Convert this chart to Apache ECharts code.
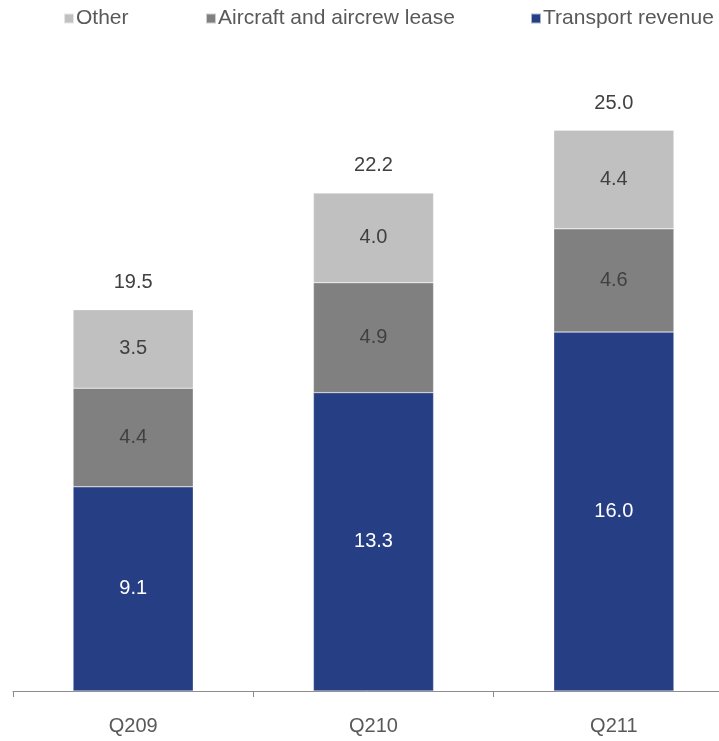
<!DOCTYPE html>
<html>
<head>
<meta charset="utf-8">
<script src="https://cdn.jsdelivr.net/npm/echarts@6/dist/echarts.min.js"></script>
<style>
  html, body { margin: 0; padding: 0; background: #fff; }
  #chart { width: 719px; height: 741px; }
</style>
</head>
<body>
<div id="chart"></div>
<script>
// Quarterly revenue breakdown
const quarters = ['Q209', 'Q210', 'Q211'];
const transportRevenue = [9.1, 13.3, 16.0];
const aircraftLease = [4.4, 4.9, 4.6];
const other = [3.5, 4.0, 4.4];
const totals = ['19.5', '22.2', '25.0'];
const legendNames = ['Other', 'Aircraft and aircrew lease', 'Transport revenue'];

const FONT = '"Liberation Sans", Arial, sans-serif';
const chart = echarts.init(document.getElementById('chart'));

function segment(name, data, color, labelColor) {
  return {
    name: name,
    type: 'bar',
    stack: 'rev',
    data: data,
    barWidth: '50%',
    itemStyle: { color: color, borderColor: 'rgba(255,255,255,0.6)', borderWidth: 0.5 },
    label: {
      show: true,
      position: 'inside',
      color: labelColor,
      fontFamily: FONT,
      fontSize: 20,
      formatter: p => p.value.toFixed(1)
    },
    emphasis: { disabled: true }
  };
}

// one legend block per entry, spread across the top
const legendLeft = [63, 205, 530];
const legends = legendNames.map((n, i) => ({
  data: [n],
  top: 8,
  left: legendLeft[i],
  padding: 0,
  itemWidth: 10,
  itemHeight: 10,
  icon: 'rect',
  selectedMode: false,
  textStyle: { fontFamily: FONT, fontSize: 21, color: '#595959', padding: [0, 0, 0, -3] }
}));

chart.setOption({
  animation: false,
  backgroundColor: '#ffffff',
  legend: legends,
  grid: { left: 13, width: 721, top: 18, bottom: 50, outerBoundsMode: 'none', containLabel: false },
  xAxis: {
    type: 'category',
    data: quarters,
    axisLine: { lineStyle: { color: '#8c8c8c', width: 1 } },
    axisTick: { show: true, length: 6, lineStyle: { color: '#8c8c8c' } },
    axisLabel: { fontFamily: FONT, fontSize: 20, color: '#595959', margin: 25 }
  },
  yAxis: {
    type: 'value',
    min: 0,
    max: 30,
    show: false,
    splitLine: { show: false }
  },
  series: [
    segment('Transport revenue', transportRevenue, '#263e84', '#ffffff'),
    segment('Aircraft and aircrew lease', aircraftLease, '#808080', '#404040'),
    segment('Other', other, '#c0c0c0', '#404040'),
    {
      name: 'Total',
      type: 'bar',
      stack: 'rev',
      data: quarters.map(() => 0),
      barWidth: '50%',
      itemStyle: { color: 'transparent' },
      label: {
        show: true,
        position: 'top',
        distance: 17,
        color: '#404040',
        fontFamily: FONT,
        fontSize: 20,
        formatter: p => totals[p.dataIndex]
      },
      emphasis: { disabled: true }
    }
  ]
});
</script>
</body>
</html>
